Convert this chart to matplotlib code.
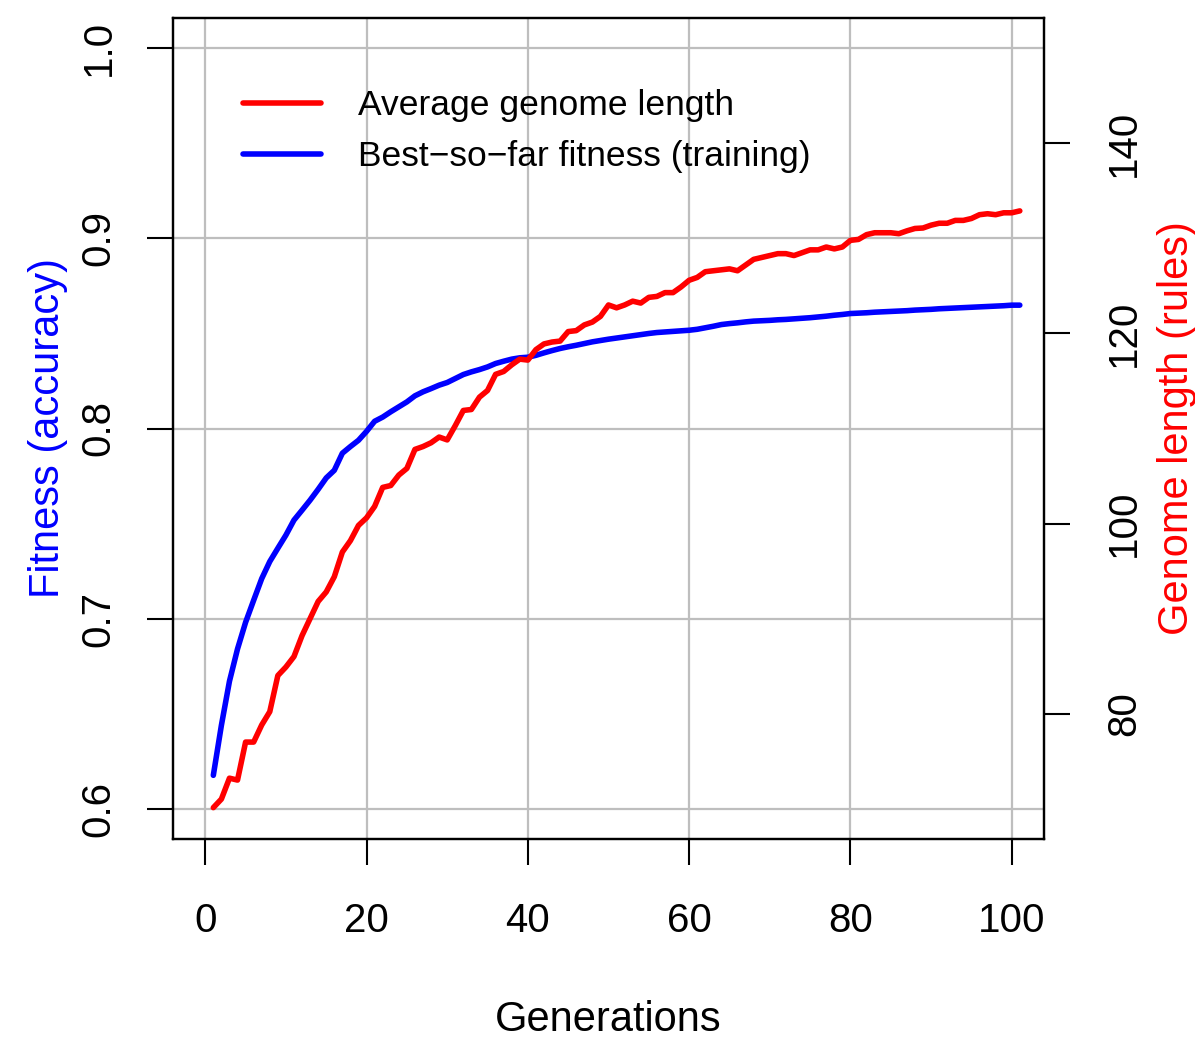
import matplotlib
matplotlib.use("Agg")
import matplotlib.pyplot as plt

plt.rcParams['font.family'] = ['Liberation Sans', 'DejaVu Sans']

gens = list(range(1, 102))

# best-so-far fitness (training), left axis
fitness = [
    0.6175, 0.6438, 0.6670, 0.6840, 0.6980, 0.7096, 0.7210, 0.7300, 0.7370, 0.7439,
    0.7518, 0.7570, 0.7623, 0.7680, 0.7740, 0.7780, 0.7870, 0.7905, 0.7938, 0.7985,
    0.8038, 0.8060, 0.8088, 0.8114, 0.8140, 0.8172, 0.8193, 0.8210, 0.8228, 0.8242,
    0.8263, 0.8284, 0.8298, 0.8310, 0.8324, 0.8342, 0.8354, 0.8365, 0.8372, 0.8375,
    0.8385, 0.8398, 0.8410, 0.8421, 0.8430, 0.8438, 0.8447, 0.8456, 0.8463, 0.8470,
    0.8476, 0.8482, 0.8488, 0.8494, 0.8500, 0.8505, 0.8508, 0.8511, 0.8514, 0.8517,
    0.8522, 0.8530, 0.8538, 0.8547, 0.8552, 0.8556, 0.8561, 0.8565, 0.8567, 0.8569,
    0.8572, 0.8574, 0.8577, 0.8580, 0.8583, 0.8587, 0.8591, 0.8596, 0.8600, 0.8605,
    0.8607, 0.8609, 0.8612, 0.8614, 0.8616, 0.8618, 0.8620, 0.8623, 0.8625, 0.8627,
    0.8630, 0.8632, 0.8634, 0.8636, 0.8638, 0.8640, 0.8642, 0.8644, 0.8646, 0.8649,
    0.8649,
]

# average genome length (rules), right axis
genome = [
    70.1, 71.0, 73.2, 73.0, 77.0, 77.0, 78.8, 80.2, 84.0, 84.9,
    86.0, 88.2, 90.0, 91.8, 92.8, 94.4, 97.0, 98.2, 99.8, 100.6,
    101.8, 103.8, 104.0, 105.1, 105.8, 107.8, 108.1, 108.5, 109.1, 108.8,
    110.3, 111.9, 112.0, 113.3, 114.0, 115.7, 116.0, 116.7, 117.3, 117.2,
    118.3, 118.9, 119.1, 119.2, 120.2, 120.3, 120.9, 121.2, 121.8, 123.0,
    122.7, 123.0, 123.4, 123.2, 123.8, 123.9, 124.3, 124.3, 124.9, 125.6,
    125.9, 126.5, 126.6, 126.7, 126.8, 126.6, 127.2, 127.8, 128.0, 128.2,
    128.4, 128.4, 128.2, 128.5, 128.8, 128.8, 129.1, 128.9, 129.1, 129.8,
    129.9, 130.4, 130.6, 130.6, 130.6, 130.5, 130.8, 131.05, 131.1, 131.4,
    131.6, 131.6, 131.9, 131.9, 132.1, 132.5, 132.6, 132.5, 132.7, 132.7,
    132.9,
]

x_ticks = [0, 20, 40, 60, 80, 100]
fit_ticks = [0.6, 0.7, 0.8, 0.9, 1.0]
len_ticks = [80, 100, 120, 140]

W, H = 1195, 1045
fig = plt.figure(figsize=(W / 100, H / 100), dpi=100)
ax = fig.add_axes([173 / W, 1 - 839 / H, 871 / W, 821 / H])
ax2 = ax.twinx()

grid_c = '#bebebe'
for t in x_ticks:
    ax.axvline(t, color=grid_c, lw=1.6, zorder=0)
for t in fit_ticks:
    ax.axhline(t, color=grid_c, lw=1.6, zorder=0)

ln_fit, = ax.plot(gens, fitness, color='blue', lw=4.0, solid_capstyle='round',
                  solid_joinstyle='round')
ln_len, = ax2.plot(gens, genome, color='red', lw=4.0, solid_capstyle='round',
                   solid_joinstyle='round')

ax.set_xlim(-4, 104)
ax.set_ylim(0.584, 1.016)
ax2.set_ylim(66.8, 153.2)

ax.set_xticks(x_ticks)
ax.set_yticks(fit_ticks)
ax.set_yticklabels([f"{t:.1f}" for t in fit_ticks])
ax2.set_yticks(len_ticks)

ax.tick_params(axis='x', labelsize=29, length=19, width=1.5, pad=26)
ax.tick_params(axis='y', labelsize=29, length=19, width=1.5, pad=21,
               labelrotation=90)
ax2.tick_params(axis='y', labelsize=29, length=19, width=1.5, pad=25,
                labelrotation=90)
for lab in ax.get_yticklabels():
    lab.set_va('center')
for lab in ax2.get_yticklabels():
    lab.set_va('center')

for a in (ax, ax2):
    for s in a.spines.values():
        s.set_linewidth(1.6)

ax.set_xlabel('Generations', fontsize=30)
ax.xaxis.set_label_coords(0.5, (839 - 1020) / 821)
ax.xaxis.label.set_va('center')
ax.set_ylabel('Fitness (accuracy)', fontsize=30, color='blue')
ax.yaxis.set_label_coords((48 - 173) / 871, 0.5)
ax.yaxis.label.set_va('center')
ax2.set_ylabel('Genome length (rules)', fontsize=30, color='red')
ax2.yaxis.set_label_coords((1177 - 173) / 871, 0.5)
ax2.yaxis.label.set_va('center')

ax2.legend([ln_len, ln_fit],
           ['Average genome length', 'Best\u2212so\u2212far fitness (training)'],
           loc='upper left', bbox_to_anchor=((243 - 173) / 871, (839 - 89) / 821),
           frameon=False, fontsize=25.5, borderpad=0, borderaxespad=0,
           handlelength=2.2, handletextpad=1.05, labelspacing=0.51)

fig.savefig('out.png', dpi=100)
